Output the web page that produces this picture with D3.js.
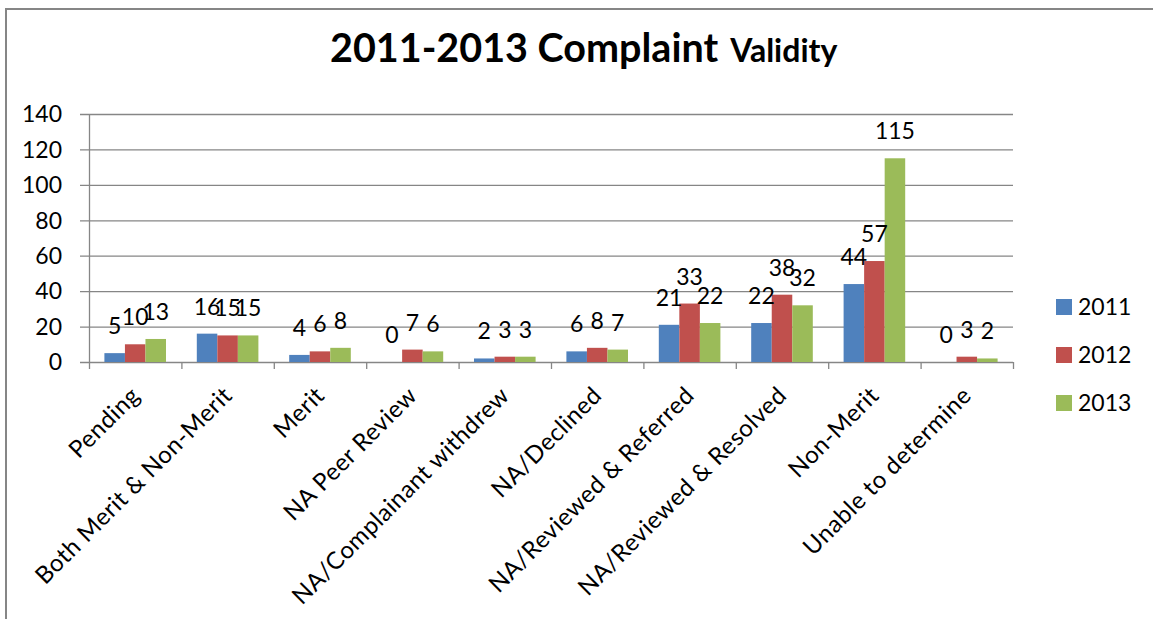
<!DOCTYPE html>
<html>
<head>
<meta charset="utf-8">
<script src="https://cdn.jsdelivr.net/npm/d3@7"></script>
<style>
  body { margin: 0; background: #fff; }
  text { font-family: Lato, "Open Sans", sans-serif; fill: #000; }
</style>
</head>
<body>
<div id="chart"></div>
<script>
// data
var categories = ["Pending", "Both Merit & Non-Merit", "Merit", "NA Peer Review",
  "NA/Complainant withdrew", "NA/Declined", "NA/Reviewed & Referred",
  "NA/Reviewed & Resolved", "Non-Merit", "Unable to determine"];
var years = ["2011", "2012", "2013"];
var values2011 = [5, 16, 4, 0, 2, 6, 21, 22, 44, 0];
var values2012 = [10, 15, 6, 7, 3, 8, 33, 38, 57, 3];
var values2013 = [13, 15, 8, 6, 3, 7, 22, 32, 115, 2];
var yTicks = [0, 20, 40, 60, 80, 100, 120, 140];
var colors = ["#4F81BD", "#C0504D", "#9BBB59"];

var seriesValues = [values2011, values2012, values2013];

var svgWidth = 1153, svgHeight = 619;

var svg = d3.select("#chart").append("svg")
  .attr("width", svgWidth)
  .attr("height", svgHeight);

// outer chart frame (runs off the right and bottom edges)
svg.append("rect")
  .attr("x", 6).attr("y", 9)
  .attr("width", 1200).attr("height", 700)
  .attr("fill", "none")
  .attr("stroke", "#868686")
  .attr("stroke-width", 2);

// plot area
var x0 = 89, x1 = 1013, yTop = 114, yBot = 362;

var xScale = d3.scaleBand()
  .domain(categories)
  .range([x0, x1])
  .padding(0);

// 150% gap width between groups
var xInner = d3.scaleBand()
  .domain(years)
  .range([0, xScale.bandwidth()])
  .paddingInner(0)
  .paddingOuter(0.75);

var yScale = d3.scaleLinear()
  .domain([0, 140])
  .range([yBot, yTop]);

// gridlines (start a bit left of the axis, like excel's outside ticks)
svg.append("g").selectAll("line")
  .data(yTicks)
  .enter().append("line")
  .attr("x1", x0 - 9).attr("x2", x1)
  .attr("y1", d => yScale(d) + 0.5).attr("y2", d => yScale(d) + 0.5)
  .attr("stroke", "#868686").attr("stroke-width", 1.3);

// y tick labels
svg.append("g").selectAll("text")
  .data(yTicks)
  .enter().append("text")
  .attr("x", 62).attr("y", d => yScale(d))
  .attr("dy", "0.36em")
  .attr("text-anchor", "end")
  .style("font-size", "23px")
  .text(d => d);

// y axis line
svg.append("line")
  .attr("x1", x0 + 0.5).attr("x2", x0 + 0.5)
  .attr("y1", yTop).attr("y2", yBot)
  .attr("stroke", "#868686").attr("stroke-width", 1.3);

// x axis tick marks at category edges
var edges = categories.map(c => xScale(c)).concat([x1]);
svg.append("g").selectAll("line")
  .data(edges)
  .enter().append("line")
  .attr("x1", d => d + 0.5).attr("x2", d => d + 0.5)
  .attr("y1", yBot).attr("y2", yBot + 7)
  .attr("stroke", "#868686").attr("stroke-width", 1.3);

// bars
var rows = [];
categories.forEach(function(c, i) {
  years.forEach(function(y, j) {
    rows.push({cat: c, year: y, idx: j, value: seriesValues[j][i]});
  });
});

svg.append("g").selectAll("rect")
  .data(rows)
  .enter().append("rect")
  .attr("x", d => xScale(d.cat) + xInner(d.year))
  .attr("y", d => yScale(d.value))
  .attr("width", xInner.bandwidth())
  .attr("height", d => yBot - yScale(d.value))
  .attr("fill", d => colors[d.idx]);

// value labels
svg.append("g").selectAll("text")
  .data(rows)
  .enter().append("text")
  .attr("x", d => xScale(d.cat) + xInner(d.year) + xInner.bandwidth() / 2)
  .attr("y", d => yScale(d.value) - 19)
  .attr("text-anchor", "middle")
  .style("font-size", "23px")
  .text(d => d.value);

// category labels, rotated -45
svg.append("g").selectAll("text")
  .data(categories)
  .enter().append("text")
  .attr("transform", d => "translate(" + (xScale(d) + xScale.bandwidth() / 2 + 6) + ",397) rotate(-45)")
  .attr("text-anchor", "end")
  .style("font-size", "24px")
  .style("letter-spacing", "0.5px")
  .text(d => d);

// title
var title = svg.append("text")
  .attr("x", 330).attr("y", 62)
  .style("font-weight", "bold");
title.append("tspan").style("font-size", "39.5px").text("2011-2013 Complaint");
title.append("tspan").attr("dx", 12).style("font-size", "32px").text("Validity");

// legend
var legend = svg.append("g").selectAll("g")
  .data(years)
  .enter().append("g")
  .attr("transform", (d, i) => "translate(1056," + (307 + i * 48) + ")");
legend.append("rect")
  .attr("x", 0).attr("y", -8)
  .attr("width", 16).attr("height", 16)
  .attr("fill", (d, i) => colors[i]);
legend.append("text")
  .attr("x", 22).attr("y", 0)
  .attr("dy", "0.36em")
  .style("font-size", "23px")
  .text(d => d);
</script>
</body>
</html>
